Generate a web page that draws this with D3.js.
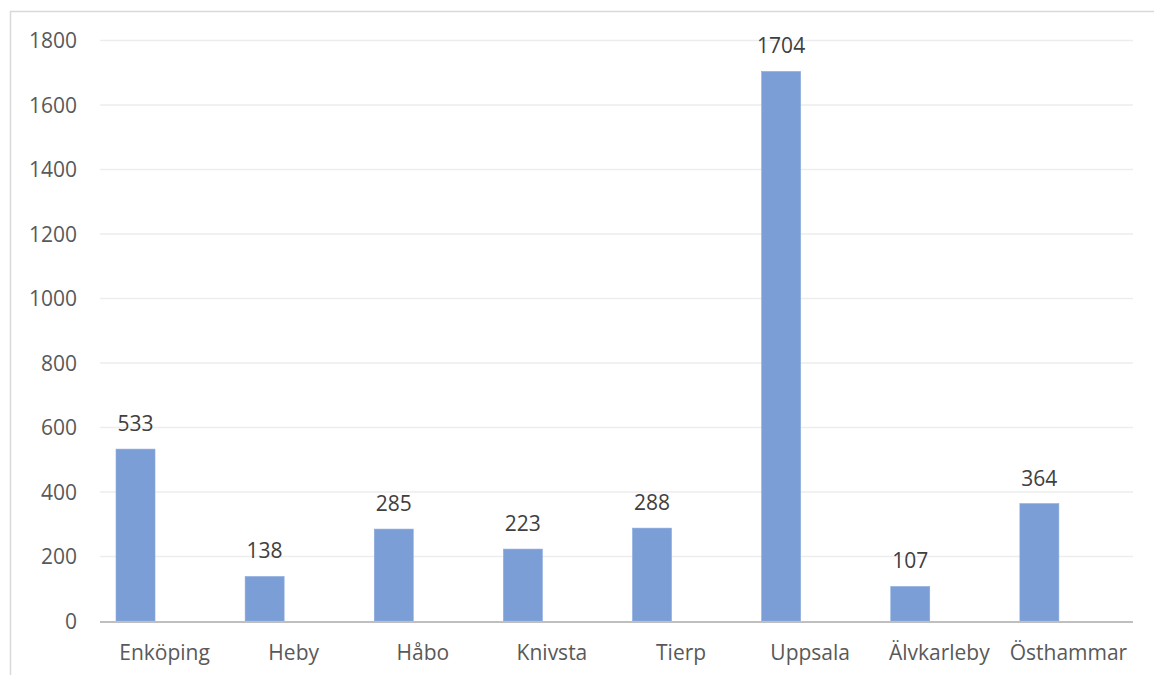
<!DOCTYPE html>
<html>
<head>
<meta charset="utf-8">
<script src="https://cdn.jsdelivr.net/npm/d3@7/dist/d3.min.js"></script>
<style>
  html, body { margin: 0; padding: 0; background: #fff; }
  svg { display: block; }
</style>
</head>
<body>
<svg id="chart" width="1154" height="675"></svg>
<script>
const categories = ["Enköping", "Heby", "Håbo", "Knivsta", "Tierp", "Uppsala", "Älvkarleby", "Östhammar"];
const values = [533, 138, 285, 223, 288, 1704, 107, 364];
const yTicks = [0, 200, 400, 600, 800, 1000, 1200, 1400, 1600, 1800];

const svg = d3.select("#chart");
const font = "'Open Sans', 'Noto Sans', sans-serif";
const fs = 21;
const plotL = 100, plotR = 1133, plotT = 40.5, plotB = 621;

// outer chart border
svg.append("rect")
  .attr("x", 10.5).attr("y", 11.5)
  .attr("width", 1200).attr("height", 700)
  .attr("fill", "none").attr("stroke", "#d9d9d9").attr("stroke-width", 1.5);

const x = d3.scaleBand().domain(categories).range([plotL, plotR]).padding(0);
const y = d3.scaleLinear().domain([0, 1800]).range([plotB, plotT]);

// gridlines
svg.append("g").selectAll("line")
  .data(yTicks.filter(d => d > 0))
  .join("line")
  .attr("x1", plotL).attr("x2", plotR)
  .attr("y1", d => y(d)).attr("y2", d => y(d))
  .attr("stroke", "#ededed").attr("stroke-width", 1.3);

// y axis labels
const yAxis = d3.axisLeft(y).tickValues(yTicks).tickSize(0).tickPadding(0).tickFormat(d3.format("d"));
const gy = svg.append("g").attr("transform", `translate(77,0)`).call(yAxis);
gy.select(".domain").remove();
gy.selectAll("text")
  .attr("font-family", font).attr("font-size", fs).attr("fill", "#595959")
  .attr("dy", "0.35em");

// bars
const barOff = 0.124, barW = 0.302;
svg.append("g").selectAll("rect")
  .data(values)
  .join("rect")
  .attr("x", (d, i) => x(categories[i]) + x.bandwidth() * barOff)
  .attr("width", x.bandwidth() * barW)
  .attr("y", d => y(d))
  .attr("height", d => y(0) - y(d))
  .attr("fill", "#7b9ed6")
  .attr("stroke", "#8aaadc").attr("stroke-width", 0.6);

// data labels
svg.append("g").selectAll("text")
  .data(values)
  .join("text")
  .attr("x", (d, i) => x(categories[i]) + x.bandwidth() * (barOff + barW / 2))
  .attr("y", d => y(d) - 18)
  .attr("text-anchor", "middle")
  .attr("font-family", font).attr("font-size", fs).attr("fill", "#404040")
  .text(d => d);

// x axis baseline
svg.append("line")
  .attr("x1", plotL).attr("x2", plotR)
  .attr("y1", plotB + 1).attr("y2", plotB + 1)
  .attr("stroke", "#bfbfbf").attr("stroke-width", 2);

// category labels
const xAxis = d3.axisBottom(x).tickSize(0).tickPadding(0);
const gx = svg.append("g").attr("transform", `translate(0,660)`).call(xAxis);
gx.select(".domain").remove();
gx.selectAll("text")
  .attr("font-family", font).attr("font-size", fs).attr("fill", "#595959")
  .attr("dy", 0).attr("y", 0);
</script>
</body>
</html>
